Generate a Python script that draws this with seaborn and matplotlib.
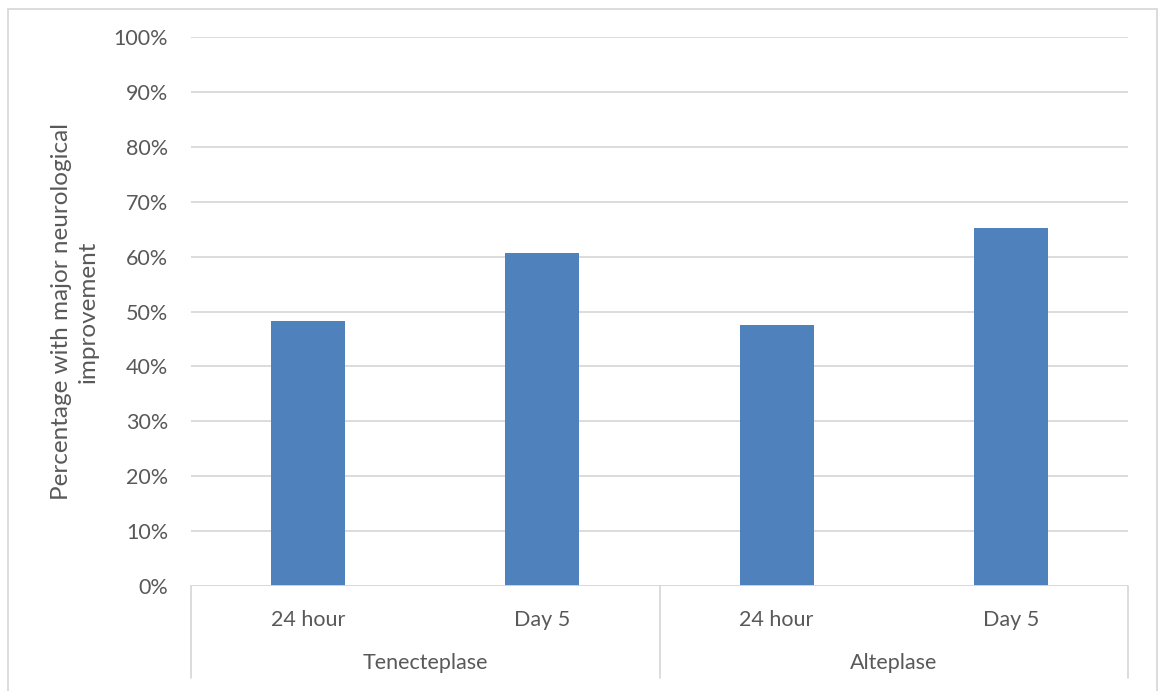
import matplotlib
matplotlib.use("Agg")
import matplotlib.pyplot as plt
from matplotlib.patches import Rectangle
from matplotlib.lines import Line2D
import seaborn as sns
import pandas as pd

# Chart data
drugs = ["Tenecteplase", "Alteplase"]
timepoints = ["24 hour", "Day 5"]
tenecteplase_pct = [48.3, 60.6]
alteplase_pct = [47.5, 65.2]
y_ticks = [0, 10, 20, 30, 40, 50, 60, 70, 80, 90, 100]

rows = []
for drug, vals in zip(drugs, [tenecteplase_pct, alteplase_pct]):
    for tp, v in zip(timepoints, vals):
        rows.append({"key": f"{drug} | {tp}", "drug": drug, "time": tp, "pct": v / 100})
df = pd.DataFrame(rows)

sns.set_theme(style="white")
plt.rcParams["font.family"] = ["Lato", "DejaVu Sans"]

text_color = "#595959"
grid_color = "#D9D9D9"
bar_color = "#4F81BD"
tick_fs = 15.5

fig = plt.figure(figsize=(11.6, 6.91), dpi=100)
W, H = 1160, 691
left, right, top, bottom = 191, 1128, 37, 586
ax = fig.add_axes([left / W, 1 - bottom / H, (right - left) / W, (bottom - top) / H])

sns.barplot(data=df, x="key", y="pct", color=bar_color, width=0.316,
            saturation=1, ax=ax, edgecolor="none")

ax.set_xlim(-0.5, len(df) - 0.5)
ax.set_ylim(0, 1)
ax.set_yticks([t / 100 for t in y_ticks])
ax.set_yticklabels([f"{t}%" for t in y_ticks], color=text_color, fontsize=tick_fs)
ax.tick_params(axis="y", length=0, pad=16.5)
ax.yaxis.grid(True, color=grid_color, linewidth=1.3)
ax.set_axisbelow(True)
for s in ax.spines.values():
    s.set_visible(False)

ax.set_xticks(range(len(df)))
ax.set_xticklabels(df["time"], color=text_color, fontsize=tick_fs)
ax.tick_params(axis="x", length=0, pad=17)
ax.set_xlabel("")
ax.set_ylabel("Percentage with major neurological\nimprovement", color=text_color,
              fontsize=17.5, labelpad=11, linespacing=1.3)

# baseline
ax.axhline(0, color=grid_color, linewidth=1.3, zorder=3)

# group separators and group labels below the axis
axh = bottom - top
sep_depth = -(678 - bottom) / axh
n_per = len(timepoints)
for i in range(len(drugs) + 1):
    xpos = i * n_per - 0.5
    ax.add_line(Line2D([xpos, xpos], [0, sep_depth], color=grid_color, linewidth=1.3,
                       transform=ax.get_xaxis_transform(), clip_on=False))
for i, drug in enumerate(drugs):
    ax.text(i * n_per + (n_per - 1) / 2, -(663 - bottom) / axh, drug,
            transform=ax.get_xaxis_transform(), ha="center", va="center",
            color=text_color, fontsize=tick_fs)

# outer chart border
fig.add_artist(Rectangle((8 / W, -0.01), (1157 - 8) / W, 1 - 9 / H + 0.01,
                         transform=fig.transFigure, fill=False,
                         edgecolor=grid_color, linewidth=1.3))

fig.savefig("out.png", dpi=100)
